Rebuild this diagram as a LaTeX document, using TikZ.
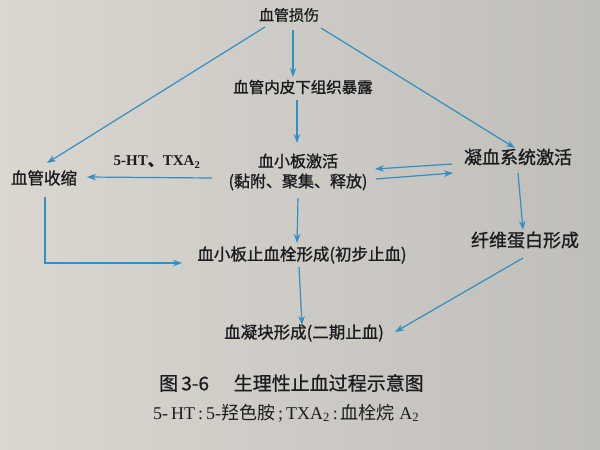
\documentclass[tikz,border=0pt]{standalone}
\usepackage{fontspec}
\setmainfont{Liberation Serif}
\newfontfamily\cjk[FakeBold=1.2]{Noto Sans CJK SC}
\newfontfamily\cjkcap[FakeBold=0.8]{Noto Sans CJK SC}
\newfontfamily\cjkfoot{Noto Sans CJK SC}
\usetikzlibrary{arrows.meta,calc}
\definecolor{paperL}{RGB}{218,215,209}
\definecolor{paperR}{RGB}{192,190,185}
\definecolor{arr}{RGB}{48,143,195}
\definecolor{ink}{RGB}{28,28,32}
\newcommand{\fsz}[1]{\fontsize{#1}{20}\selectfont}
\begin{document}
\begin{tikzpicture}[x=1pt,y=-1pt,
  lbl/.style={font=\cjk\fsz{16}, text=ink, inner sep=1pt, align=center},
  conn/.style={draw=arr, line width=1.2pt, -{Stealth[length=9pt,width=6.5pt]}}]
\shade[left color=paperL, right color=paperR] (0,0) rectangle (600,450);
\useasboundingbox (0,0) rectangle (600,450);

\node[lbl, font=\cjk\fsz{15}]   (inj)  at (289,15)  {血管损伤};
\node[lbl, font=\cjk\fsz{15.5}] (exp)  at (303,87)  {血管内皮下组织暴露};
\node[lbl, font=\cjk\fsz{16}]   (act)  at (298,172) {血小板激活\\(黏附、聚集、释放)};
\node[lbl, font=\cjk\fsz{16.5}] (con)  at (44,178)  {血管收缩};
\node[lbl, font=\cjk\fsz{18}]   (coag) at (518,157) {凝血系统激活};
\node[lbl, font=\cjk\fsz{18}]   (fib)  at (525,240) {纤维蛋白形成};
\node[lbl, font=\cjk\fsz{16.5}] (plug) at (302,255) {血小板止血栓形成(初步止血)};
\node[lbl, font=\cjk\fsz{16.5}] (clot) at (304,333) {血凝块形成(二期止血)};
\node[text=ink, font=\bfseries\fsz{15}, inner sep=1pt] (ht) at (157,162) {5-HT{\cjk 、}TXA\textsubscript{2}};

\node[text=ink, anchor=west, inner sep=0pt, font=\cjkcap\fsz{19}] (cap1) at (159,383) {图\,3-6\hspace{1.3em}生理性止血过程示意图};
\node[text=ink, anchor=west, inner sep=0pt, font=\fsz{18}] (cap2) at (153,413) {5-\,HT\,:\,5-{\cjkfoot 羟色胺}\,;\,TXA\textsubscript{2}\,:\,{\cjkfoot 血栓烷} A\textsubscript{2}};

\draw[conn] ($(inj)+(4,15)$) -- ($(exp)+(-10,-10)$);
\draw[conn] ($(inj)+(-24,12)$) -- ($(con)+(3,-15)$);
\draw[conn] ($(inj)+(32,13)$) -- ($(coag)+(-3,-9)$);
\draw[conn] ($(exp)+(-6,13)$) -- ($(act)+(-1,-29)$);
\draw[conn] ($(act)+(-86,6)$) -- ($(con)+(43,-1)$);
\draw[conn] ($(coag)+(-66,7)$) -- ($(act)+(77,-3)$);
\draw[conn] ($(act)+(78,7)$) -- ($(coag)+(-65,16)$);
\draw[conn] ($(coag)+(0,16)$) -- ($(fib)+(-2,-10)$);
\draw[conn] ($(fib)+(-2,18)$) -- ($(clot)+(91,-1)$);
\draw[conn] ($(con)+(1,19)$) |- ($(plug)+(-120,8)$);
\draw[conn] ($(act)+(0,26)$) -- ($(plug)+(-5,-12)$);
\draw[conn] ($(plug)+(-3,12)$) -- ($(clot)+(-2,-8)$);
\end{tikzpicture}
\end{document}
